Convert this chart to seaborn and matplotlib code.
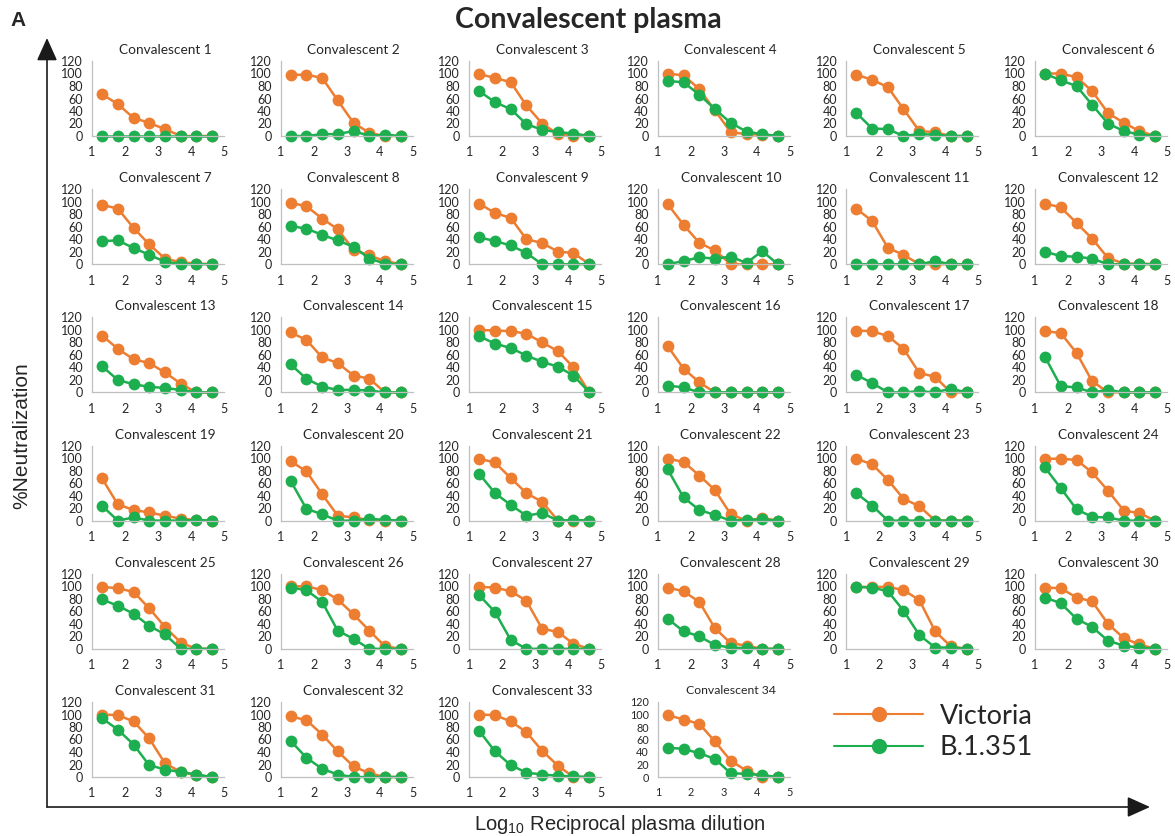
#!/usr/bin/env python3
# Convalescent plasma neutralization curves, Victoria vs B.1.351
# 34 small panels + one shared legend

import pandas as pd
import matplotlib
matplotlib.use('Agg')
import matplotlib.pyplot as plt
import seaborn as sns
from matplotlib.lines import Line2D
from matplotlib.patches import FancyArrowPatch

# x: log10 reciprocal plasma dilution (1:20 then 3-fold steps)
log_dilution = [1.30, 1.78, 2.26, 2.73, 3.21, 3.69, 4.16, 4.64]

patients = [f'Convalescent {i}' for i in range(1, 35)]

# % neutralization, one row per patient
victoria = [
    [67, 51, 29, 21, 11, 0, 0, 0],
    [98, 98, 93, 57, 21, 5, 0, 0],
    [99, 93, 86, 49, 20, 3, 0, 0],
    [100, 97, 75, 41, 6, 3, 2, 0],
    [98, 90, 78, 43, 8, 6, 0, 0],
    [100, 100, 94, 72, 37, 21, 8, 0],
    [95, 89, 58, 32, 9, 3, 1, 0],
    [98, 93, 73, 56, 23, 14, 5, 0],
    [97, 82, 74, 40, 34, 20, 18, 0],
    [96, 63, 34, 22, 0, 0, 0, 0],
    [89, 69, 26, 15, 0, 0, 0, 0],
    [97, 91, 66, 41, 10, 1, 1, 0],
    [91, 70, 53, 47, 32, 14, 0, 0],
    [96, 84, 56, 47, 27, 22, 0, 0],
    [100, 99, 98, 94, 80, 66, 40, 0],
    [74, 38, 16, 0, 0, 0, 0, 0],
    [99, 98, 90, 70, 31, 25, 0, 0],
    [98, 95, 63, 18, 0, 0, 0, 0],
    [68, 26, 17, 13, 8, 3, 1, 0],
    [95, 79, 42, 8, 5, 1, 0, 0],
    [99, 93, 68, 44, 30, 0, 0, 0],
    [99, 94, 72, 49, 10, 0, 4, 0],
    [99, 90, 65, 35, 23, 0, 0, 0],
    [99, 99, 97, 77, 48, 16, 12, 0],
    [99, 97, 91, 65, 35, 10, 0, 0],
    [100, 100, 94, 79, 55, 29, 4, 0],
    [99, 98, 92, 77, 32, 27, 8, 0],
    [98, 92, 75, 33, 9, 5, 0, 0],
    [99, 99, 99, 94, 78, 28, 4, 0],
    [98, 97, 82, 76, 40, 17, 7, 0],
    [100, 99, 89, 62, 22, 8, 3, 0],
    [97, 91, 68, 41, 17, 6, 0, 0],
    [100, 99, 89, 72, 42, 18, 0, 0],
    [99, 92, 85, 57, 26, 10, 0, 0],
]

b1351 = [
    [0, 0, 0, 0, 0, 0, 0, 0],
    [0, 0, 3, 3, 8, 0, 2, 0],
    [72, 54, 43, 19, 10, 6, 4, 0],
    [88, 86, 66, 43, 21, 7, 3, 0],
    [37, 12, 11, 0, 3, 2, 0, 0],
    [100, 89, 80, 50, 20, 8, 2, 0],
    [37, 38, 26, 15, 4, 0, 0, 0],
    [61, 57, 47, 38, 28, 9, 1, 0],
    [43, 37, 30, 18, 0, 0, 0, 0],
    [0, 5, 11, 9, 12, 2, 21, 0],
    [0, 0, 0, 0, 0, 5, 0, 0],
    [20, 13, 12, 9, 0, 0, 0, 0],
    [42, 20, 13, 9, 7, 4, 0, 0],
    [45, 22, 9, 4, 4, 3, 0, 0],
    [90, 78, 71, 59, 49, 41, 27, 0],
    [11, 8, 0, 0, 0, 0, 0, 0],
    [28, 15, 0, 0, 2, 0, 6, 0],
    [57, 10, 8, 0, 4, 0, 0, 0],
    [24, 0, 5, 0, 0, 0, 1, 0],
    [64, 19, 10, 0, 0, 3, 1, 0],
    [75, 44, 25, 8, 12, 0, 1, 0],
    [82, 37, 17, 9, 0, 1, 2, 0],
    [44, 24, 0, 0, 0, 0, 0, 0],
    [85, 52, 18, 6, 5, 0, 0, 0],
    [79, 69, 56, 37, 23, 0, 0, 0],
    [98, 94, 75, 29, 16, 0, 0, 0],
    [86, 59, 14, 0, 0, 0, 0, 0],
    [48, 28, 20, 6, 2, 1, 0, 0],
    [99, 98, 92, 61, 22, 2, 2, 0],
    [82, 73, 48, 35, 13, 5, 2, 0],
    [94, 76, 52, 19, 12, 8, 4, 0],
    [58, 31, 13, 4, 0, 0, 0, 0],
    [74, 41, 19, 7, 4, 2, 1, 0],
    [47, 45, 38, 29, 6, 5, 3, 0],
]

viruses = ['Victoria', 'B.1.351']

# long table for seaborn
rows = []
for name, v_vals, b_vals in zip(patients, victoria, b1351):
    for x, v, b in zip(log_dilution, v_vals, b_vals):
        rows.append((name, 'Victoria', x, v))
        rows.append((name, 'B.1.351', x, b))
df = pd.DataFrame(rows, columns=['patient', 'virus', 'log_dil', 'neut'])

sns.set_style('white')
plt.rcParams['font.family'] = ['Lato', 'DejaVu Sans']
plt.rcParams['mathtext.fontset'] = 'custom'
plt.rcParams['mathtext.rm'] = 'Liberation Sans'

ORANGE = '#ED7D31'
GREEN = '#1DAF4F'
GREY = '#BFBFBF'
TXT = '#262626'

W, H = 1175, 836
fig = plt.figure(figsize=(W / 100, H / 100), dpi=100)


def px_axes(x0, y_bottom, w, h):
    # pixel box (from top-left) -> figure fraction
    return fig.add_axes([x0 / W, 1 - y_bottom / H, w / W, h / H])


for i, name in enumerate(patients):
    r, c = divmod(i, 6)
    ax = px_axes(92 + 188.6 * c, 136 + 128.2 * r, 132, 75)
    sub = df[df['patient'] == name]
    sns.lineplot(data=sub, x='log_dil', y='neut', hue='virus', hue_order=viruses,
                 palette=[ORANGE, GREEN], marker='o', markersize=8.5,
                 markeredgewidth=0, linewidth=1.8, clip_on=False,
                 errorbar=None, legend=False, ax=ax)
    ax.set_xlim(1, 5)
    ax.set_ylim(0, 120)
    ax.set_xticks(range(1, 6))
    ax.set_yticks(range(0, 121, 20))
    ax.set_xlabel('')
    ax.set_ylabel('')
    small = (i == 33)
    ax.tick_params(axis='both', colors=GREY, labelcolor=TXT, length=3, width=0.9,
                   labelsize=7.8 if small else 9, direction='out')
    ax.tick_params(axis='x', pad=4.5)
    ax.tick_params(axis='y', pad=3.5)
    for side in ['top', 'right']:
        ax.spines[side].set_visible(False)
    for side in ['left', 'bottom']:
        ax.spines[side].set_color(GREY)
        ax.spines[side].set_linewidth(0.9)
    ax.patch.set_alpha(0)
    ax.text(0.5 + 7 / 132, 1 + 11 / 75, name, transform=ax.transAxes,
            ha='center', va='center', fontsize=8.8 if small else 9.8, color=TXT)

# panel letter and main title
fig.text(18 / W, 1 - 20 / H, 'A', fontsize=15, fontweight='bold',
         family='Liberation Sans', ha='center', va='center')
fig.text(588 / W, 1 - 20 / H, 'Convalescent plasma', fontsize=20.5,
         fontweight='bold', ha='center', va='center')

# big axis arrows around the grid
corner = (47 / W, 1 - 807 / H)
arrow_kw = dict(arrowstyle='-|>,head_length=1.0,head_width=0.45', color='#1a1a1a',
                lw=1.2, shrinkA=0, shrinkB=0, mutation_scale=14,
                transform=fig.transFigure)
fig.add_artist(FancyArrowPatch(corner, (47 / W, 1 - 38 / H), **arrow_kw))
fig.add_artist(FancyArrowPatch(corner, (1150 / W, 1 - 807 / H), **arrow_kw))

fig.text(22 / W, 1 - 436 / H, '%Neutralization', rotation=90, fontsize=15,
         family='Liberation Sans', ha='center', va='center')
fig.text(620 / W, 1 - 824 / H, r'Log$_{10}$ Reciprocal plasma dilution', fontsize=14.5,
         family='Liberation Sans', ha='center', va='center')

# shared legend
handles = [Line2D([], [], color=col, lw=1.5, marker='o', markersize=11,
                  markeredgewidth=0) for col in [ORANGE, GREEN]]
fig.legend(handles, viruses, loc='center left', bbox_to_anchor=(834 / W, 1 - 732 / H),
           frameon=False, fontsize=19.5, handlelength=3.3, handletextpad=0.6,
           labelspacing=0.25, borderpad=0, borderaxespad=0)

plt.savefig('out.png', dpi=100)
